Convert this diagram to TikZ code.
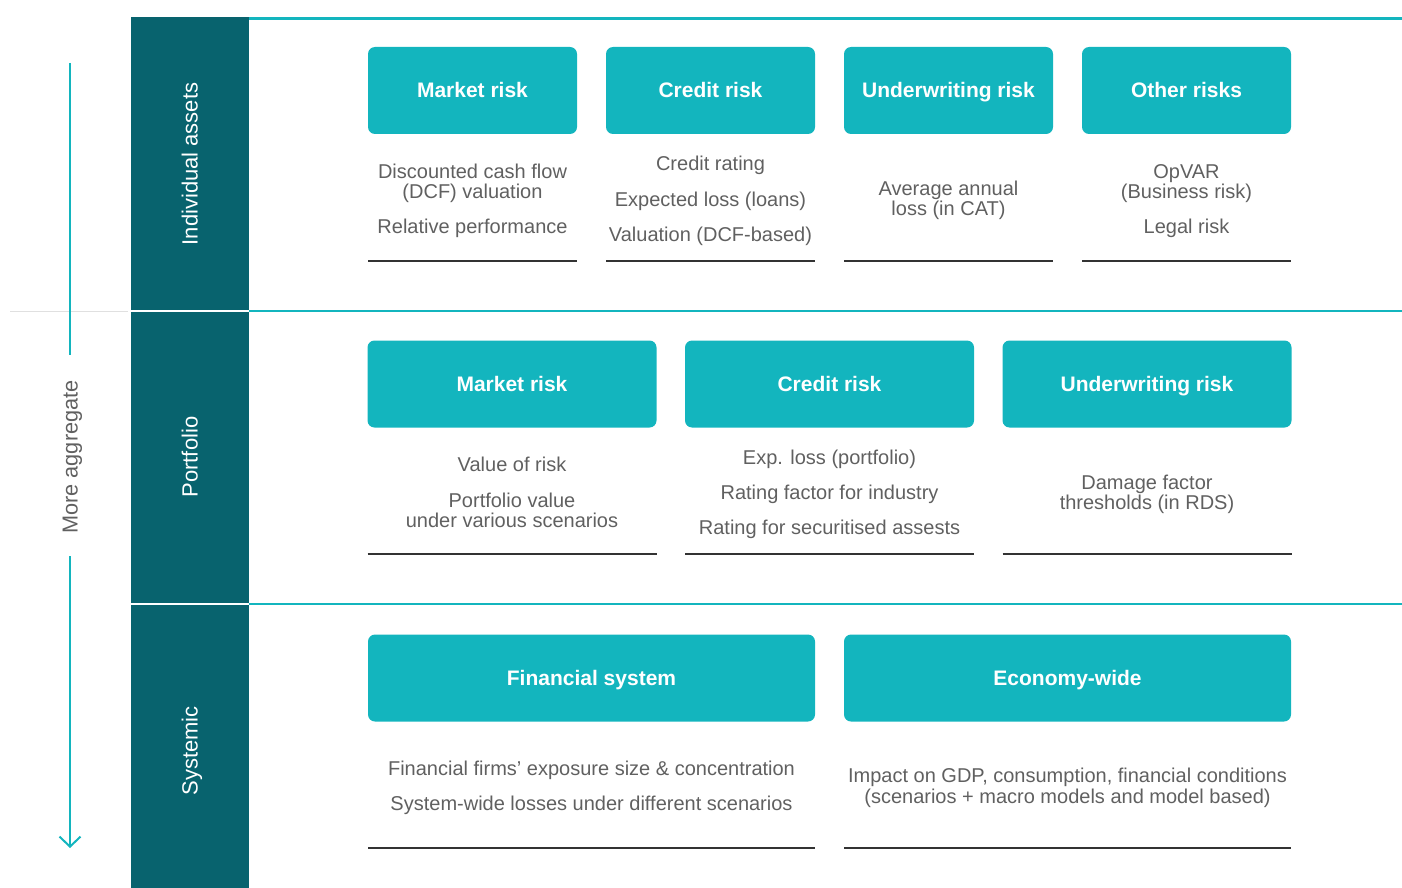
\documentclass[tikz,border=0pt]{standalone}
\usepackage{fontspec}
\setmainfont{Liberation Sans}
\usetikzlibrary{arrows.meta}
\definecolor{tealc}{HTML}{13B5BE}
\definecolor{darkc}{HTML}{08636E}
\definecolor{txtc}{HTML}{606060}
\definecolor{rulec}{HTML}{333333}
\begin{document}
\begin{tikzpicture}[x=1pt,y=-1pt,
  hdr/.style={fill=tealc,rounded corners=7pt,minimum height=87pt,text=white,inner sep=0pt,outer sep=0pt,text height=15pt,text depth=0pt,font=\fontsize{21}{21}\selectfont\bfseries},
  desc/.style={text=txtc,anchor=base,inner sep=0pt,font=\fontsize{20}{20}\selectfont},
  lvl/.style={text=white,rotate=90,inner sep=0pt,text height=15pt,text depth=0pt,font=\fontsize{22}{22}\selectfont},
  uline/.style={draw=rulec,line width=1.3pt},
  sep/.style={draw=tealc,line width=2.5pt}]
\path[use as bounding box] (0,0) rectangle (1402,888);
% dark column
\fill[darkc] (131,17) rectangle (249,888);
\draw[white,line width=2.5pt] (131,311) -- (249,311);
\draw[white,line width=2.5pt] (131,604) -- (249,604);
% separators
\coordinate (s0a) at (249,18.5); \coordinate (s0b) at (1402,18.5);
\coordinate (s1a) at (249,311); \coordinate (s1b) at (1402,311);
\coordinate (s2a) at (249,604); \coordinate (s2b) at (1402,604);
\draw[sep] (s0a) -- (s0b);
\draw[sep] (s1a) -- (s1b);
\draw[sep] (s2a) -- (s2b);
\draw[draw=black!12,line width=1pt] (10,311) -- (128,311);
% level labels
\node[lvl] (la) at (190,164) {Individual assets};
\node[lvl] (lp) at (190,457) {Portfolio};
\node[lvl] (ls) at (190,751) {Systemic};
% arrow
\node[text=txtc,rotate=90,inner sep=0pt,text height=15pt,text depth=0pt,font=\fontsize{21.7}{22}\selectfont] (agg) at (70,457) {More aggregate};
\coordinate (a0) at (70,63); \coordinate (a1) at (70,355);
\coordinate (a2) at (70,556); \coordinate (a3) at (70,848);
\draw[tealc,line width=2pt] (a0) -- (a1);
\draw[tealc,line width=2pt,-{Straight Barb[length=10pt,width=21pt,line width=2pt]}] (a2) -- (a3);
% row 1
\node[hdr,minimum width=209pt] (m1) at (472.5,90.5) {Market risk};
\node[hdr,minimum width=209pt] (c1) at (710.5,90.5) {Credit risk};
\node[hdr,minimum width=209pt] (u1) at (948.5,90.5) {Underwriting risk};
\node[hdr,minimum width=209pt] (o1) at (1186.5,90.5) {Other risks};
\node[desc] (m1a) at (472.5,178) {Discounted cash flow};
\node[desc] (m1b) at (472.5,198) {(DCF) valuation};
\node[desc] (m1c) at (472.5,233) {Relative performance};
\node[desc] (c1a) at (710.5,170) {Credit rating};
\node[desc] (c1b) at (710.5,206) {Expected loss (loans)};
\node[desc] (c1c) at (710.5,241) {Valuation (DCF-based)};
\node[desc] (u1a) at (948.5,195) {Average annual};
\node[desc] (u1b) at (948.5,215) {loss (in CAT)};
\node[desc] (o1a) at (1186.5,178) {OpVAR};
\node[desc] (o1b) at (1186.5,198) {(Business risk)};
\node[desc] (o1c) at (1186.5,233) {Legal risk};
\foreach \n in {m1,c1,u1,o1} \draw[uline] (\n.west |- 0,261) -- (\n.east |- 0,261);
% row 2
\node[hdr,minimum width=289pt] (m2) at (512,384) {Market risk};
\node[hdr,minimum width=289pt] (c2) at (829.5,384) {Credit risk};
\node[hdr,minimum width=289pt] (u2) at (1147,384) {Underwriting risk};
\node[desc] (m2a) at (512,471) {Value of risk};
\node[desc] (m2b) at (512,507) {Portfolio value};
\node[desc] (m2c) at (512,527) {under various scenarios};
\node[desc] (c2a) at (829.5,464) {Exp. loss (portfolio)};
\node[desc] (c2b) at (829.5,499) {Rating factor for industry};
\node[desc] (c2c) at (829.5,534) {Rating for securitised assests};
\node[desc] (u2a) at (1147,489) {Damage factor};
\node[desc] (u2b) at (1147,509) {thresholds (in RDS)};
\foreach \n in {m2,c2,u2} \draw[uline] (\n.west |- 0,554) -- (\n.east |- 0,554);
% row 3
\node[hdr,minimum width=447pt] (f3) at (591.5,678) {Financial system};
\node[hdr,minimum width=447pt] (e3) at (1067.5,678) {Economy-wide};
\node[desc] (f3a) at (591.5,775) {Financial firms’ exposure size \& concentration};
\node[desc] (f3b) at (591.5,810) {System-wide losses under different scenarios};
\node[desc] (e3a) at (1067.5,782) {Impact on GDP, consumption, financial conditions};
\node[desc] (e3b) at (1067.5,803) {(scenarios + macro models and model based)};
\foreach \n in {f3,e3} \draw[uline] (\n.west |- 0,848) -- (\n.east |- 0,848);
\end{tikzpicture}
\end{document}
